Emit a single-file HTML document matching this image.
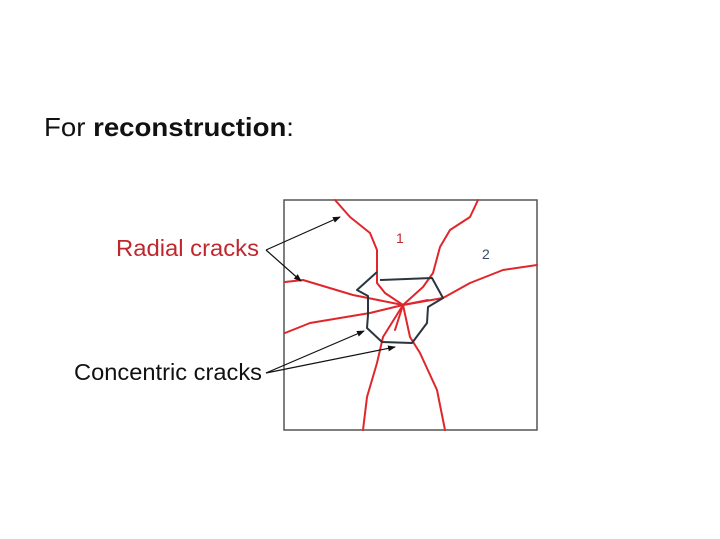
<!DOCTYPE html>
<html><head><meta charset="utf-8"><style>
html,body{margin:0;padding:0;background:#fff;}
body{width:720px;height:539px;position:relative;overflow:hidden;font-family:"Liberation Sans",sans-serif;}
</style></head><body>
<svg width="720" height="539" viewBox="0 0 720 539" xmlns="http://www.w3.org/2000/svg" style="position:absolute;left:0;top:0">
<defs><marker id="ah" markerWidth="8" markerHeight="6" refX="7" refY="3" orient="auto" markerUnits="userSpaceOnUse"><path d="M0,0 L8,3 L0,6 z" fill="#111"/></marker></defs>
<text x="44" y="136" font-family="Liberation Sans, sans-serif" font-size="26" fill="#111" textLength="250" lengthAdjust="spacingAndGlyphs">For <tspan font-weight="bold">reconstruction</tspan>:</text>
<text x="116" y="256" font-size="23" fill="#c0272d" textLength="143" lengthAdjust="spacingAndGlyphs">Radial cracks</text>
<text x="74" y="380" font-size="23" fill="#111" textLength="188" lengthAdjust="spacingAndGlyphs">Concentric cracks</text>
<rect x="284" y="200" width="253" height="230" fill="none" stroke="#555" stroke-width="1.5"/>
<g fill="none" stroke="#e0262b" stroke-width="2" stroke-linejoin="round" stroke-linecap="round">
<path d="M335,200 L350,217 L370,233 L377,250 L377,272 L377,283 L385,293 L403,305"/>
<path d="M478,200 L470,217 L450,230 L440,247 L433,273 L423,287 L403,305"/>
<path d="M537,265 L503,270 L470,283 L443,298 L403,305"/>
<path d="M285,282 L303,280 L353,295 L403,305"/>
<path d="M285,333 L310,323 L370,313 L403,305"/>
<path d="M363,430 L367,397 L377,363 L383,337 L403,305"/>
<path d="M445,430 L437,390 L420,353 L410,337 L403,305"/>
<path d="M403,305 L428,300 M403,305 L395,330"/>
</g>
<path d="M377,272 L357,290 L368,296 L368,315 L367,328 L382,342 L412,343 L427,323 L428,307 L443,298 L432,278 L380,280" fill="none" stroke="#2c3440" stroke-width="2" stroke-linejoin="round"/>
<text x="396" y="243" font-size="14" fill="#c0272d">1</text>
<text x="482" y="259" font-size="14" fill="#3b4a6b">2</text>
<g stroke="#111" stroke-width="1.2">
<line x1="266" y1="250" x2="340" y2="217" marker-end="url(#ah)"/>
<line x1="266" y1="250" x2="301" y2="281" marker-end="url(#ah)"/>
<line x1="266" y1="373" x2="364" y2="331" marker-end="url(#ah)"/>
<line x1="266" y1="373" x2="395" y2="347" marker-end="url(#ah)"/>
</g>
</svg>
</body></html>
